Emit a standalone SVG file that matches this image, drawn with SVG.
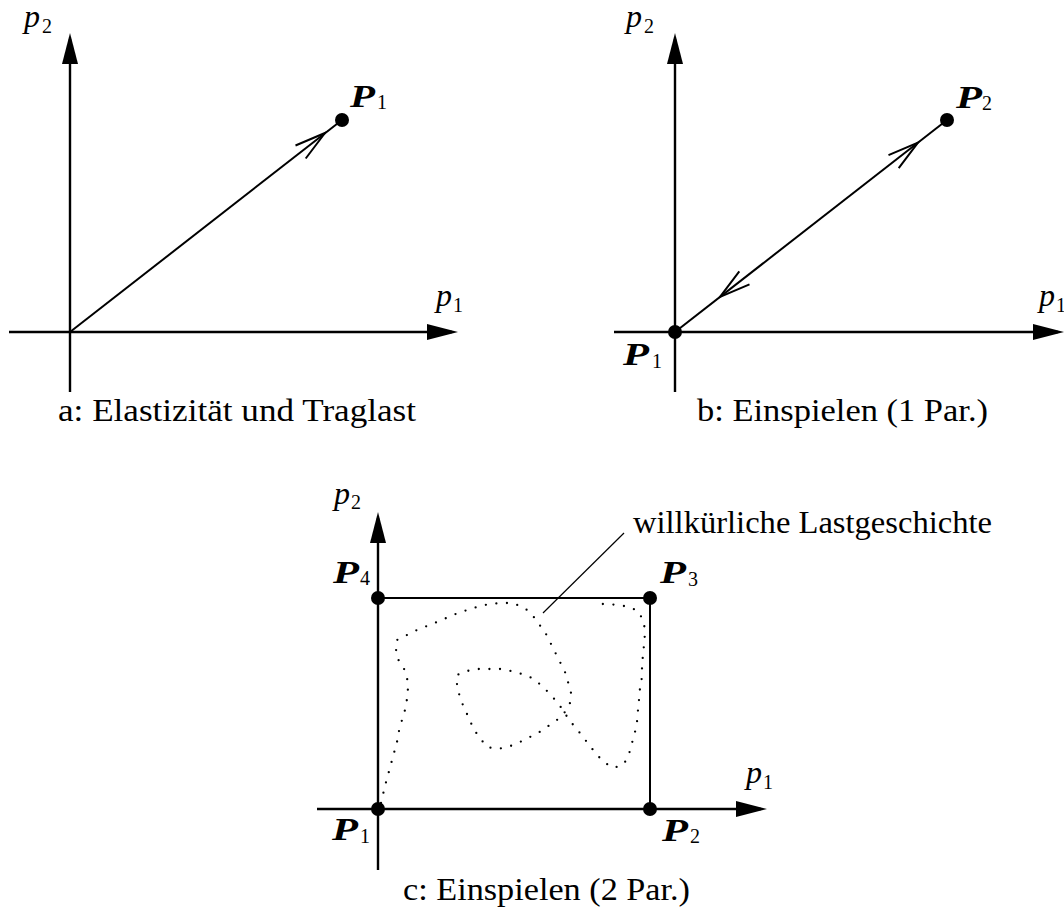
<svg xmlns="http://www.w3.org/2000/svg" width="1064" height="907" viewBox="0 0 1064 907">
<defs>
<marker id="ah" markerUnits="userSpaceOnUse" markerWidth="32" markerHeight="18" viewBox="0 -9 32 18" refX="25" refY="0" orient="auto" overflow="visible">
<path d="M0,-8 L31,0 L0,8 Z" fill="#000"/>
</marker>
</defs>
<style>
.ax{stroke:#000;stroke-width:2.4;fill:none}
.ln{stroke:#000;stroke-width:2;fill:none}
.chev{stroke:#000;stroke-width:2;fill:none;stroke-linejoin:miter}
.lead{stroke:#000;stroke-width:1.2;fill:none}
.dot{fill:#000}
.it{font-family:"Liberation Serif",serif;font-style:italic;font-size:32px;fill:#000}
.sub{font-family:"Liberation Serif",serif;font-size:20px;fill:#000}
.P{font-family:"Liberation Serif",serif;font-style:italic;font-weight:bold;font-size:31px;fill:#000}
.cap{font-family:"Liberation Serif",serif;font-size:31px;fill:#000}
.path{stroke:#000;stroke-width:2.3;fill:none;stroke-linecap:round;stroke-linejoin:round;stroke-dasharray:0 10.6}
</style>

<g id="panel-a">
<g id="a-connectors">
<line class="ax" x1="70" y1="392" x2="70" y2="39" marker-end="url(#ah)"/>
<line class="ax" x1="9" y1="332" x2="452" y2="332" marker-end="url(#ah)"/>
<line class="ln" x1="70" y1="332" x2="342" y2="120"/>
<polyline class="chev" points="295.5,145.5 325,133 305.7,158.5"/>
</g>
<g id="a-P1"><circle class="dot" cx="342" cy="120" r="7"/>
<text class="P" x="350" y="107" textLength="25" lengthAdjust="spacingAndGlyphs">P</text><text class="sub" x="377" y="109">1</text></g>
<g id="a-labels">
<text class="it" x="24" y="27">p</text><text class="sub" x="42" y="33">2</text>
<text class="it" x="436" y="306">p</text><text class="sub" x="453" y="312">1</text>
<text class="cap" x="58" y="421" textLength="358" lengthAdjust="spacingAndGlyphs">a: Elastizität und Traglast</text>
</g>
</g>

<g id="panel-b">
<g id="b-connectors">
<line class="ax" x1="675" y1="392" x2="675" y2="39" marker-end="url(#ah)"/>
<line class="ax" x1="614" y1="332" x2="1058" y2="332" marker-end="url(#ah)"/>
<line class="ln" x1="675" y1="332" x2="947" y2="120"/>
<polyline class="chev" points="888.5,155.1 918,142.6 898.7,168.1"/>
<polyline class="chev" points="749.5,284.4 720,296.9 739.3,271.4"/>
</g>
<g id="b-P1"><circle class="dot" cx="675" cy="332" r="7"/>
<text class="P" x="623" y="365" textLength="26" lengthAdjust="spacingAndGlyphs">P</text><text class="sub" x="652" y="368">1</text></g>
<g id="b-P2"><circle class="dot" cx="947" cy="120" r="7"/>
<text class="P" x="956" y="108" textLength="26" lengthAdjust="spacingAndGlyphs">P</text><text class="sub" x="982" y="110">2</text></g>
<g id="b-labels">
<text class="it" x="626" y="27">p</text><text class="sub" x="644" y="33">2</text>
<text class="it" x="1039" y="306">p</text><text class="sub" x="1056" y="312">1</text>
<text class="cap" x="697" y="421" textLength="291" lengthAdjust="spacingAndGlyphs">b: Einspielen (1 Par.)</text>
</g>
</g>

<g id="panel-c">
<g id="c-connectors">
<line class="ax" x1="378" y1="870" x2="378" y2="518" marker-end="url(#ah)"/>
<line class="ax" x1="317" y1="809" x2="761" y2="809" marker-end="url(#ah)"/>
<polyline class="ln" points="378,598 650,598 650,809"/>
<line class="lead" x1="624" y1="533" x2="543" y2="613"/>
<polyline class="path" points="381,803 385,786 388,775 391,764 394,753 397,742 399,731 402,720 405,710 407,699 408,688 407,677 403,666 397,658 396,649 397,640 417,630 437,622 458,613 480,606 490,604 502,603 512,603 523,607 531,613 538,623 545,632 550,642 555,652 560,662 565,672 568,682 571,693 570,703 565,712 557,720 547,727 538,733 528,738 518,743 508,747 497,749 487,747 479,737 473,728 469,718 464,708 460,697 457,687 457,675 467,671 478,669 489,669 500,669 511,671 522,674 532,678 541,685 549,693 557,702 563,710 569,720 576,728 583,737 590,746 597,755 605,763 614,768 624,764 629,754 632,743 635,732 637,722 638,710 639,700 640,688 642,677 642,665 643,655 644,645 645,633 644,623 639,612 630,607 618,605 607,604 597,604"/>
</g>
<g id="c-P1"><circle class="dot" cx="378" cy="809" r="7"/>
<text class="P" x="332" y="840" textLength="26" lengthAdjust="spacingAndGlyphs">P</text><text class="sub" x="360" y="843">1</text></g>
<g id="c-P2"><circle class="dot" cx="650" cy="809" r="7"/>
<text class="P" x="662" y="841" textLength="26" lengthAdjust="spacingAndGlyphs">P</text><text class="sub" x="690" y="843">2</text></g>
<g id="c-P3"><circle class="dot" cx="650" cy="598" r="7"/>
<text class="P" x="660" y="583" textLength="26" lengthAdjust="spacingAndGlyphs">P</text><text class="sub" x="688" y="586">3</text></g>
<g id="c-P4"><circle class="dot" cx="378" cy="598" r="7"/>
<text class="P" x="333" y="583" textLength="26" lengthAdjust="spacingAndGlyphs">P</text><text class="sub" x="360" y="585">4</text></g>
<g id="c-labels">
<text class="it" x="334" y="504">p</text><text class="sub" x="351" y="509">2</text>
<text class="it" x="746" y="783">p</text><text class="sub" x="763" y="789">1</text>
<text class="cap" x="633" y="533" textLength="359" lengthAdjust="spacingAndGlyphs">willkürliche Lastgeschichte</text>
<text class="cap" x="403" y="900" textLength="287" lengthAdjust="spacingAndGlyphs">c: Einspielen (2 Par.)</text>
</g>
</g>
</svg>
